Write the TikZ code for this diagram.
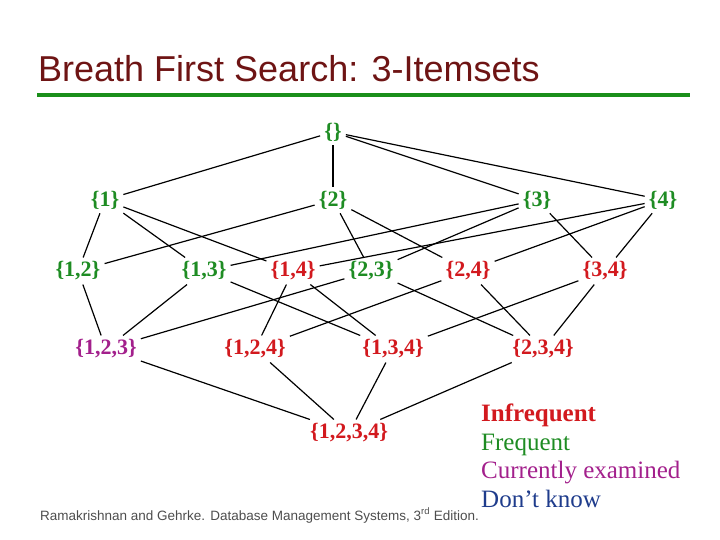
\documentclass[tikz,border=0pt]{standalone}
\usepackage{fontspec}
\setmainfont{Liberation Serif}
\setsansfont{Liberation Sans}
\usetikzlibrary{positioning}
\definecolor{TitleRed}{HTML}{6E1414}
\definecolor{RuleGreen}{HTML}{1A8F1A}
\definecolor{SetFreq}{HTML}{1E8C23}
\definecolor{SetInfreq}{HTML}{D2191E}
\definecolor{SetCurrent}{HTML}{A3208C}
\definecolor{SetUnknown}{HTML}{1F3C8C}
\definecolor{NoteGray}{HTML}{4D4D4D}
\tikzset{iset/.style={font=\fontsize{22}{24}\selectfont\bfseries,inner sep=4pt},
 freq/.style={iset,text=SetFreq},infreq/.style={iset,text=SetInfreq},
 current/.style={iset,text=SetCurrent},link/.style={draw=black,line width=1.2pt},
 key/.style={anchor=base west,inner sep=0pt,font=\fontsize{25}{27}\selectfont}}

\begin{document}
\begin{tikzpicture}[x=1pt,y=-1pt]
\useasboundingbox (0,0) rectangle (720,540);
% Heading with the green rule under it.
\node[anchor=base west,inner sep=0pt,text=TitleRed,
 font=\sffamily\fontsize{36}{40}\selectfont] (title) at (38,82)
 {Breath First Search: 3-Itemsets};
\draw[RuleGreen,line width=4pt] (37,95)--(690,95);
% Lattice of itemsets, one row per size.
\node[freq] (e) at (333,132) {\{\}};
\foreach \n/\x in {1/105,2/333,3/537,4/663}
 {\node[freq] (s\n) at (\x,200) {\{\n\}};}
\foreach \n/\t/\x/\c in {12/{1,2}/78/freq,13/{1,3}/204/freq,14/{1,4}/293/infreq,
 23/{2,3}/371/freq,24/{2,4}/468/infreq,34/{3,4}/605/infreq}
 {\node[\c] (s\n) at (\x,271) {\{\t\}};}
\foreach \n/\t/\x/\c in {123/{1,2,3}/106/current,124/{1,2,4}/255/infreq,
 134/{1,3,4}/393/infreq,234/{2,3,4}/543/infreq}
 {\node[\c] (s\n) at (\x,349) {\{\t\}};}
\node[infreq] (s1234) at (349,433) {\{1,2,3,4\}};
% Subset links; {1,2}--{1,2,4} is not drawn.
\foreach \a/\b in {e/s1,e/s2,e/s3,e/s4,
 s1/s12,s1/s13,s1/s14,s2/s12,s2/s23,s2/s24,
 s3/s13,s3/s23,s3/s34,s4/s14,s4/s24,s4/s34,
 s12/s123,s13/s123,s23/s123,s14/s124,s24/s124,
 s13/s134,s14/s134,s34/s134,s23/s234,s24/s234,s34/s234,
 s123/s1234,s124/s1234,s134/s1234,s234/s1234}
 {\draw[link] (\a)--(\b);}
% Legend.
\node[key,text=SetInfreq,font=\fontsize{25}{27}\selectfont\bfseries] (kInf) at (481,421) {Infrequent};
\node[key,text=SetFreq] (kFreq) at (481,450) {Frequent};
\node[key,text=SetCurrent] (kCur) at (481,478) {Currently examined};
\node[key,text=SetUnknown] (kUnk) at (481,507) {Don’t know};
\node[anchor=base west,inner sep=0pt,text=NoteGray,
 font=\sffamily\fontsize{13.5}{15}\selectfont] (cite) at (40,520)
 {Ramakrishnan and Gehrke. Database Management Systems, 3\textsuperscript{rd} Edition.};
\end{tikzpicture}
\end{document}
